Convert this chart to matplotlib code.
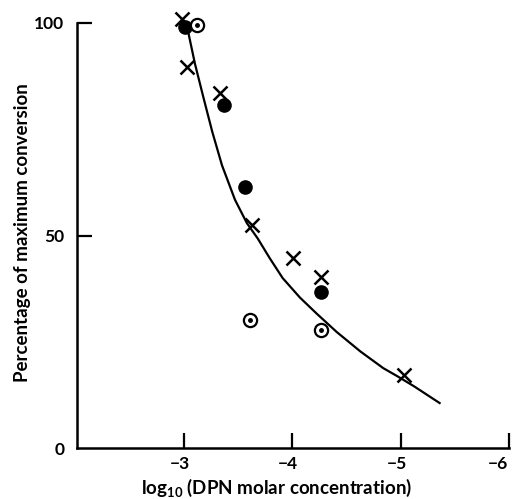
import matplotlib
matplotlib.use("Agg")
import matplotlib.pyplot as plt
import matplotlib.transforms as mtransforms

plt.rcParams['font.family'] = ['Lato', 'DejaVu Sans']
plt.rcParams['font.weight'] = 'bold'
plt.rcParams['mathtext.default'] = 'regular'

# crosses
cross_x = [-2.98, -3.03, -3.33, -3.63, -4.01, -4.26, -5.03]
cross_y = [101, 89.6, 83.5, 52.5, 44.7, 40.3, 17.1]
# filled circles
fill_x = [-3.01, -3.37, -3.56, -4.26]
fill_y = [99.0, 80.6, 61.5, 36.8]
# dotted circles
dot_x = [-3.12, -3.61, -4.26]
dot_y = [99.5, 30.1, 27.8]
# fitted curve
curve_x = [-3.04, -3.10, -3.18, -3.26, -3.35, -3.47, -3.58, -3.68, -3.79, -3.91,
           -4.07, -4.23, -4.41, -4.63, -4.84, -4.97, -5.12, -5.36]
curve_y = [97.6, 90.4, 82.3, 74.4, 66.5, 58.4, 52.9, 49.3, 44.7, 40.0,
           35.4, 31.5, 27.3, 22.7, 18.8, 16.9, 14.6, 10.6]

xticks = [-3, -4, -5, -6]
yticks = [0, 50, 100]

fig = plt.figure(figsize=(5.13, 4.99), dpi=100)
ax = fig.add_axes([0.150, 0.102, 0.842, 0.852])

ax.plot(curve_x, curve_y, color='black', lw=1.6, zorder=2)
ax.plot(cross_x, cross_y, ls='none', marker='x', ms=10, mew=1.8, color='black', zorder=3, clip_on=False)
ax.plot(fill_x, fill_y, ls='none', marker='o', ms=9.5, color='black', zorder=3, clip_on=False)
ax.plot(dot_x, dot_y, ls='none', marker='o', ms=9.5, mfc='white', mec='black', mew=1.6, zorder=3, clip_on=False)
ax.plot(dot_x, dot_y, ls='none', marker='o', ms=2.5, color='black', zorder=4, clip_on=False)

ax.set_xlim(-2.01, -6)
ax.set_ylim(0, 100)
ax.spines['top'].set_visible(False)
ax.spines['right'].set_visible(False)
for s in ['left', 'bottom']:
    ax.spines[s].set_linewidth(1.8)

ax.set_xticks(xticks)
ax.set_xticklabels(['\u2212%d' % abs(v) for v in xticks])
ax.set_yticks(yticks)
ax.set_yticklabels([str(v) for v in yticks])
ax.tick_params(direction='in', length=11, width=1.6, labelsize=12.5, pad=6)
ax.tick_params(axis='y', pad=9)
ax.yaxis.get_major_ticks()[0].tick1line.set_visible(False)

# shift tick labels slightly left, the last one more so it stays inside
xlabels = ax.get_xticklabels()
for i, lab in enumerate(xlabels):
    dx = -8 / 72 if i == len(xlabels) - 1 else -3 / 72
    lab.set_transform(lab.get_transform() + mtransforms.ScaledTranslation(dx, 0, fig.dpi_scale_trans))

ax.set_xlabel('log$_{10}$ (DPN molar concentration)', fontsize=13.5, fontweight='bold')
ax.set_ylabel('Percentage of maximum conversion', fontsize=13.5, fontweight='bold')
ax.xaxis.set_label_coords(0.463, -0.094)
ax.xaxis.label.set_va('center')
ax.yaxis.set_label_coords(-0.127, 0.508)
ax.yaxis.label.set_va('center')

fig.savefig('out.png', dpi=100)
